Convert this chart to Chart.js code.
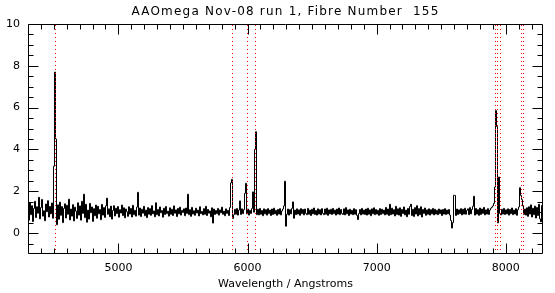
<!DOCTYPE html>
<html>
<head>
<meta charset="utf-8">
<script src="https://cdn.jsdelivr.net/npm/chart.js@4.4.1/dist/chart.umd.min.js"></script>
<style>
  html, body { margin: 0; padding: 0; background: #ffffff; }
  #spec { display: block; }
</style>
</head>
<body>
<canvas id="spec" width="555" height="293"></canvas>
<script>
// spectrum sampling (start wavelength + dispersion per sample)
const lambdaStart = 4300;
const lambdaStep = 7.7437;

// flux values, one per sample
const flux = [
  1.12, 0.62, 1.45, 0.88, 1.31, 0.55, 1.18, 1.52, 0.74, 1.26,
  0.95, 1.71, 0.68, 1.22, 1.61, 0.81, 1.07, 0.59, 1.39, 1.02,
  1.55, 0.77, 1.28, 0.92, 1.44, 0.71, 3.20, 7.70, 4.50, 0.40,
  1.35, 0.66, 1.48, 0.85, 1.27, 0.50, 1.18, 1.40, 0.72, 1.33,
  0.90, 1.62, 0.63, 1.15, 0.81, 1.36, 0.58, 1.24, 1.05, 0.70,
  1.45, 0.86, 1.30, 0.62, 1.52, 0.94, 1.86, 0.74, 1.38, 0.52,
  1.10, 0.67, 1.42, 0.97, 1.25, 0.56, 1.17, 0.83, 1.34, 0.71,
  1.28, 0.92, 1.13, 0.64, 1.37, 0.86, 1.22, 0.75, 1.30, 1.67,
  0.90, 1.16, 0.78, 1.29, 0.67, 1.08, 1.31, 0.82, 1.19, 0.93,
  1.27, 0.76, 1.12, 0.96, 1.34, 0.84, 1.21, 0.73, 1.15, 1.02,
  0.80, 1.26, 0.91, 1.18, 0.77, 1.33, 0.88, 1.09, 0.81, 1.24,
  1.95, 0.86, 1.20, 0.79, 1.14, 0.95, 1.28, 0.83, 1.10, 0.74,
  1.22, 0.90, 1.17, 0.85, 1.31, 0.92, 1.06, 0.78, 1.45, 0.88,
  1.13, 0.82, 1.25, 0.97, 1.08, 0.76, 1.19, 0.89, 1.27, 0.93,
  1.05, 0.81, 1.21, 0.90, 1.14, 0.84, 1.30, 0.95, 1.11, 0.79,
  1.18, 0.92, 1.24, 0.86, 1.09, 0.98, 1.16, 0.83, 1.20, 0.94,
  1.86, 0.88, 1.12, 0.80, 1.23, 0.91, 1.07, 0.85, 1.19, 0.96,
  1.10, 0.82, 1.26, 0.93, 1.04, 0.87, 1.17, 0.90, 1.28, 0.84,
  1.13, 0.95, 1.06, 0.78, 1.21, 0.48, 1.15, 0.89, 1.08, 0.93,
  1.18, 0.86, 1.11, 0.97, 1.24, 0.90, 1.05, 0.83, 1.16, 0.94,
  1.09, 0.84, 1.22, 2.40, 2.57, 0.70, 0.88, 1.14, 0.90, 1.18,
  0.86, 1.10, 1.54, 0.89, 1.16, 0.93, 1.12, 1.90, 2.38, 0.92,
  1.15, 0.86, 1.09, 0.94, 1.17, 1.97, 1.00, 4.00, 4.85, 0.88,
  1.14, 0.87, 1.18, 0.90, 1.08, 0.83, 1.16, 0.92, 1.12, 0.86,
  1.17, 0.93, 1.10, 0.84, 1.15, 0.89, 1.19, 0.92, 1.09, 0.85,
  1.13, 0.91, 1.17, 0.87, 1.06, 1.15, 1.30, 2.48, 0.33, 0.90,
  1.15, 0.86, 1.12, 0.92, 1.18, 1.49, 0.71, 1.10, 0.88, 1.16,
  0.91, 1.11, 0.85, 1.17, 0.93, 1.13, 0.87, 1.15, 0.94, 0.88,
  1.18, 0.90, 1.10, 0.84, 1.14, 0.92, 1.20, 0.89, 1.08, 0.86,
  1.16, 0.91, 1.12, 0.87, 1.17, 0.94, 0.88, 1.15, 0.90, 1.19,
  0.85, 1.11, 0.92, 1.14, 0.89, 1.18, 0.93, 1.10, 0.86, 1.15,
  0.91, 1.20, 0.88, 1.13, 0.94, 0.89, 1.16, 0.87, 1.22, 0.92,
  1.11, 0.84, 1.14, 0.91, 1.09, 0.88, 1.17, 0.90, 1.12, 0.85,
  0.65, 0.93, 1.13, 0.87, 1.18, 0.91, 1.10, 0.89, 1.15, 0.86,
  1.19, 0.90, 1.11, 0.83, 1.16, 0.92, 1.21, 0.88, 1.13, 0.91,
  1.09, 0.85, 1.17, 0.89, 1.14, 0.93, 1.10, 0.87, 1.23, 0.90,
  1.15, 0.84, 1.38, 0.88, 1.19, 0.91, 1.12, 0.82, 1.28, 0.89,
  1.16, 0.86, 1.21, 0.80, 1.13, 0.93, 1.25, 0.87, 1.10, 0.78,
  1.18, 0.90, 1.27, 1.38, 0.84, 1.14, 0.79, 1.22, 0.91, 1.31,
  0.82, 1.17, 0.88, 1.26, 0.77, 1.13, 0.94, 1.20, 0.85, 1.11,
  0.90, 1.16, 0.86, 1.12, 0.92, 1.18, 0.87, 1.14, 0.91, 1.09,
  0.88, 1.15, 0.93, 1.11, 0.84, 1.13, 0.91, 1.17, 0.89, 1.10,
  0.92, 1.13, 0.86, 0.60, 0.24, 0.50, 1.81, 1.80, 0.84, 1.15,
  0.89, 1.11, 0.93, 1.17, 0.87, 1.14, 0.91, 1.19, 0.90, 1.09,
  1.16, 0.88, 1.22, 0.92, 1.13, 1.28, 1.76, 0.86, 1.18, 0.91,
  1.12, 0.85, 1.20, 0.89, 1.15, 0.94, 1.23, 0.87, 1.11, 0.91,
  1.17, 0.89, 1.10, 1.19, 1.24, 1.30, 1.42, 2.20, 5.86, 5.10,
  0.49, 2.68, 0.94, 0.87, 1.14, 0.91, 1.18, 0.89, 1.11, 0.92,
  1.16, 0.86, 1.13, 0.93, 1.20, 0.88, 1.10, 0.91, 1.17, 0.85,
  1.12, 1.25, 2.17, 1.80, 1.60, 1.30, 0.89, 1.15, 0.86, 1.21,
  0.80, 1.26, 0.91, 1.35, 0.77, 1.19, 0.88, 1.29, 0.72, 1.23,
  0.84, 1.38, 0.68, 0.54, 1.32, 0.82
];

// red dotted marker wavelengths
const markerLines = [4513, 5884, 6000, 6062, 7920, 7936, 7959, 8122, 8137];

// axes
const xMin = 4300, xMax = 8288;
const yMin = -1, yMax = 10;
const xTickValues = [5000, 6000, 7000, 8000];
const yTickValues = [0, 2, 4, 6, 8, 10];
const xMinorStep = 100;
const yMinorStep = 0.5;

const titleText = 'AAOmega Nov-08 run 1, Fibre Number  155';
const xTitleText = 'Wavelength / Angstroms';

const fontName = '"DejaVu Sans", sans-serif';

const spectrumPoints = flux.map((f, i) => ({ x: lambdaStart + i * lambdaStep, y: f }));

// red dotted vertical markers, 1px dots every 4px
const markerPlugin = {
    id: 'markers',
    afterDatasetsDraw(chart) {
        const ctx = chart.ctx;
        const a = chart.chartArea;
        const xs = chart.scales.x;
        ctx.save();
        ctx.fillStyle = '#ff0000';
        markerLines.forEach(w => {
            const col = Math.floor(xs.getPixelForValue(w));
            for (let y = Math.round(a.top) + 1; y < a.bottom; y += 4) {
                ctx.fillRect(col, y, 1, 1);
            }
        });
        ctx.restore();
    }
};

// frame with inward ticks on all four sides, plus the title
const framePlugin = {
    id: 'frame',
    afterDraw(chart) {
        const ctx = chart.ctx;
        const a = chart.chartArea;
        const xs = chart.scales.x;
        const ys = chart.scales.y;
        const L = Math.round(a.left) + 0.5, R = Math.round(a.right) - 0.5;
        const T = Math.round(a.top) + 0.5, B = Math.round(a.bottom) - 0.5;
        ctx.save();
        ctx.strokeStyle = '#000';
        ctx.lineWidth = 1;
        ctx.beginPath();
        ctx.rect(L, T, R - L, B - T);

        const xTick = (v, len) => {
            const p = Math.round(xs.getPixelForValue(v)) + 0.5;
            ctx.moveTo(p, B); ctx.lineTo(p, B - len);
            ctx.moveTo(p, T); ctx.lineTo(p, T + len);
        };
        const yTick = (v, len) => {
            const p = Math.round(ys.getPixelForValue(v)) + 0.5;
            ctx.moveTo(L, p); ctx.lineTo(L + len, p);
            ctx.moveTo(R, p); ctx.lineTo(R - len, p);
        };
        for (let v = Math.ceil(xMin / xMinorStep) * xMinorStep; v <= xMax; v += xMinorStep) {
            xTick(v, xTickValues.includes(v) ? 10 : 5);
        }
        for (let v = yMin + yMinorStep; v < yMax; v += yMinorStep) {
            yTick(v, yTickValues.includes(v) ? 10 : 5);
        }
        ctx.stroke();

        ctx.fillStyle = '#000';
        ctx.font = '12px ' + fontName;
        ctx.letterSpacing = '1.2px';
        ctx.textAlign = 'center';
        ctx.textBaseline = 'middle';
        ctx.fillText(titleText, (a.left + a.right) / 2, 12);
        ctx.restore();
    }
};

new Chart(document.getElementById('spec'), {
    type: 'line',
    data: {
        datasets: [
            {
                data: spectrumPoints,
                borderColor: '#000000',
                borderWidth: 1,
                pointRadius: 0,
                stepped: 'middle',
            }
        ]
    },
    options: {
        responsive: false,
        animation: false,
        devicePixelRatio: 1,
        layout: {
            padding: { left: 0, right: 12, top: 24, bottom: 0 }
        },
        plugins: {
            legend: { display: false },
            tooltip: { enabled: false },
            title: { display: false },
        },
        scales: {
            x: {
                type: 'linear',
                min: xMin,
                max: xMax,
                grid: { display: false, drawTicks: false },
                border: { display: false },
                ticks: {
                    color: '#000',
                    font: { family: fontName, size: 11 },
                    padding: 8,
                    maxRotation: 0,
                    autoSkip: false,
                    callback: v => String(v),
                },
                title: {
                    display: true,
                    text: xTitleText,
                    color: '#000',
                    font: { family: fontName, size: 11 },
                    padding: { top: 0, bottom: 2 },
                },
                afterBuildTicks: s => { s.ticks = xTickValues.map(v => ({ value: v })); },
                afterFit: s => { s.height = 39; },
            },
            y: {
                min: yMin,
                max: yMax,
                grid: { display: false, drawTicks: false },
                border: { display: false },
                ticks: {
                    color: '#000',
                    font: { family: fontName, size: 11 },
                    padding: 8,
                    callback: v => String(v),
                },
                afterBuildTicks: s => { s.ticks = yTickValues.map(v => ({ value: v })); },
                afterFit: s => { s.width = 28; },
            }
        }
    },
    plugins: [markerPlugin, framePlugin]
});
</script>
</body>
</html>
